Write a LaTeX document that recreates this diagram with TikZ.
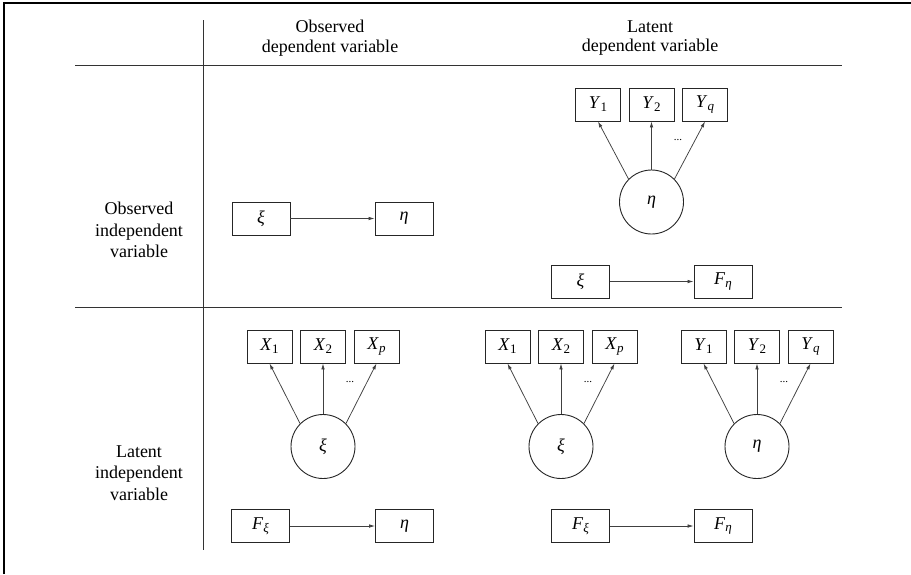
\documentclass[tikz,border=0pt]{standalone}
\usepackage{fontspec}
\setmainfont{Liberation Serif}
\usetikzlibrary{arrows.meta}

% subscripts set as lowered, smaller upright or italic text
\newcommand\lowsub[1]{\raisebox{-0.16em}{\fontsize{13}{13}\selectfont #1}}
\newcommand\sym[1]{\textit{#1}}

\begin{document}
\begin{tikzpicture}[x=1pt,y=-1pt,
  every node/.style={font=\fontsize{18}{21.5}\selectfont},
  lbl/.style={align=center, inner sep=0pt},
  headlbl/.style={lbl, font=\fontsize{18}{19.5}\selectfont},
  rule/.style={line width=0.8pt, black!80},
  obsbox/.style={draw, line width=0.9pt, black!85, text=black, minimum width=45pt, minimum height=33pt, inner sep=0pt},
  widebox/.style={obsbox, minimum width=58pt},
  latent/.style={draw, circle, line width=0.9pt, black!85, text=black, minimum size=64pt, inner sep=0pt},
  path/.style={line width=0.75pt, black!75, -{Latex[length=6pt,width=3.6pt]}},
  dots/.style={font=\fontsize{11}{11}\selectfont, inner sep=0pt}
]
\useasboundingbox (0,0) rectangle (911,574);

% outer frame edges
\draw[line width=2.5pt] (4,574) -- (4,3) -- (911,3);

% table rules
\coordinate (vtop) at (203,20);
\coordinate (vbot) at (203,550);
\coordinate (h1l) at (75,65);
\coordinate (h1r) at (842,65);
\coordinate (h2l) at (75,307);
\coordinate (h2r) at (842,307);
\draw[rule] (vtop) -- (vbot);
\draw[rule] (h1l) -- (h1r);
\draw[rule] (h2l) -- (h2r);

% column and row headings
\node[headlbl] (colobs) at (330,38) {Observed\\dependent variable};
\node[headlbl] (collat) at (650,38) {Latent\\dependent variable};
\node[lbl] (rowobs) at (139,230) {Observed\\independent\\variable};
\node[lbl] (rowlat) at (139,473) {Latent\\independent\\variable};

% observed -> observed
\node[widebox] (oxi) at (261,218.5) {\sym{ξ}};
\node[widebox] (oeta) at (404,218.5) {\sym{η}};
\draw[path] (oxi) -- (oeta);

% observed -> latent
\node[obsbox] (ay1) at (598,104.5) {\sym{Y}\lowsub{1}};
\node[obsbox] (ay2) at (651.5,104.5) {\sym{Y}\lowsub{2}};
\node[obsbox] (ayq) at (705,104.5) {\sym{Y}\lowsub{\itshape q}};
\node[latent] (aeta) at (651.5,202) {\sym{η}};
\draw[path] (aeta.135) -- (ay1.south);
\draw[path] (aeta.north) -- (ay2.south);
\draw[path] (aeta.45) -- (ayq.south);
\node[dots] (adots) at (678,140) {...};
\node[widebox] (axi) at (580.5,281.5) {\sym{ξ}};
\node[widebox] (afeta) at (723,281.5) {\sym{F}\lowsub{\itshape η}};
\draw[path] (axi) -- (afeta);

% latent -> observed
\node[obsbox] (bx1) at (269.5,346.5) {\sym{X}\lowsub{1}};
\node[obsbox] (bx2) at (323,346.5) {\sym{X}\lowsub{2}};
\node[obsbox] (bxp) at (376.5,346.5) {\sym{X}\lowsub{\itshape p}};
\node[latent] (bxi) at (323,446.5) {\sym{ξ}};
\draw[path] (bxi.135) -- (bx1.south);
\draw[path] (bxi.north) -- (bx2.south);
\draw[path] (bxi.45) -- (bxp.south);
\node[dots] (bdots) at (350,382) {...};
\node[widebox] (bfxi) at (260.5,526) {\sym{F}\lowsub{\itshape ξ}};
\node[widebox] (beta) at (404.5,526) {\sym{η}};
\draw[path] (bfxi) -- (beta);

% latent -> latent
\node[obsbox] (cx1) at (507.5,346.5) {\sym{X}\lowsub{1}};
\node[obsbox] (cx2) at (561,346.5) {\sym{X}\lowsub{2}};
\node[obsbox] (cxp) at (614.5,346.5) {\sym{X}\lowsub{\itshape p}};
\node[latent] (cxi) at (561,446.5) {\sym{ξ}};
\draw[path] (cxi.135) -- (cx1.south);
\draw[path] (cxi.north) -- (cx2.south);
\draw[path] (cxi.45) -- (cxp.south);
\node[dots] (cdots) at (588,382) {...};

\node[obsbox] (cy1) at (703.5,346.5) {\sym{Y}\lowsub{1}};
\node[obsbox] (cy2) at (757,346.5) {\sym{Y}\lowsub{2}};
\node[obsbox] (cyq) at (810.5,346.5) {\sym{Y}\lowsub{\itshape q}};
\node[latent] (ceta) at (757,446.5) {\sym{η}};
\draw[path] (ceta.135) -- (cy1.south);
\draw[path] (ceta.north) -- (cy2.south);
\draw[path] (ceta.45) -- (cyq.south);
\node[dots] (cdots2) at (784,382) {...};

\node[widebox] (cfxi) at (580.5,526) {\sym{F}\lowsub{\itshape ξ}};
\node[widebox] (cfeta) at (723,526) {\sym{F}\lowsub{\itshape η}};
\draw[path] (cfxi) -- (cfeta);
\end{tikzpicture}
\end{document}
